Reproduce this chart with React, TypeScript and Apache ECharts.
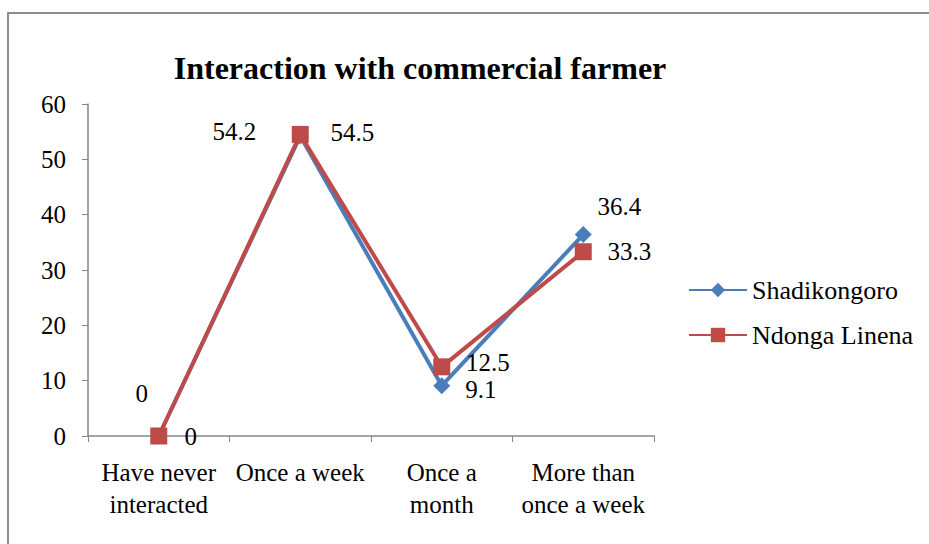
import React, { useEffect, useRef } from "react";
import * as echarts from "echarts";

const categories = ["Have never\ninteracted", "Once a week", "Once a\nmonth", "More than\nonce a week"];
const shadikongoro = [0, 54.2, 9.1, 36.4];
const ndongaLinena = [0, 54.5, 12.5, 33.3];
const yTicks = { min: 0, max: 60, interval: 10 };

const shLabelOffsets = [[-17, -43], [-66, -5], [39, 4], [36, -28]];
const ndLabelOffsets = [[32, 0], [52, -2], [46, -4], [46, 0]];

const FONT = '"Liberation Serif", "Times New Roman", serif';

export default function App() {
  const ref = useRef<HTMLDivElement>(null);
  useEffect(() => {
    if (!ref.current) return;
    const chart = echarts.init(ref.current, null, { renderer: "svg" });
    const mk = (vals: number[], offs: number[][]) =>
      vals.map((v, i) => ({
        value: v,
        label: { show: true, position: "inside", offset: offs[i] },
      }));
    chart.setOption({
      animation: false,
      backgroundColor: "#ffffff",
      graphic: [
        {
          type: "rect",
          shape: { x: 8, y: 13, width: 960, height: 600 },
          style: { fill: "none", stroke: "#8c8c8c", lineWidth: 2 },
          z: -1,
        },
        {
          type: "text",
          x: 420,
          y: 68,
          style: {
            text: "Interaction with commercial farmer",
            fontFamily: FONT,
            fontWeight: "bold",
            fontSize: 32,
            fill: "#000",
            align: "center",
            verticalAlign: "middle",
          },
        },
      ],
      grid: { left: 88, right: 275, top: 104, bottom: 108, containLabel: false },
      legend: {
        orient: "vertical",
        left: 683,
        top: 272,
        itemWidth: 58,
        itemHeight: 18,
        itemGap: 19,
        textStyle: { fontFamily: FONT, fontSize: 26, color: "#000" },
        data: ["Shadikongoro", "Ndonga Linena"],
      },
      xAxis: {
        type: "category",
        data: categories,
        boundaryGap: true,
        axisLine: { lineStyle: { color: "#868686", width: 1.5 } },
        axisTick: { show: true, length: 6, alignWithLabel: false, lineStyle: { color: "#868686" } },
        axisLabel: {
          fontFamily: FONT,
          fontSize: 25,
          color: "#000",
          lineHeight: 32,
          margin: 20,
          interval: 0,
        },
        splitLine: { show: false },
      },
      yAxis: {
        type: "value",
        min: yTicks.min,
        max: yTicks.max,
        interval: yTicks.interval,
        axisLine: { show: true, lineStyle: { color: "#868686", width: 1.5 } },
        axisTick: { show: true, length: 6, lineStyle: { color: "#868686" } },
        axisLabel: { fontFamily: FONT, fontSize: 25, color: "#000", margin: 22 },
        splitLine: { show: false },
      },
      series: [
        {
          name: "Shadikongoro",
          type: "line",
          data: mk(shadikongoro, shLabelOffsets),
          symbol: "diamond",
          symbolSize: 17,
          itemStyle: { color: "#4A7EBB" },
          lineStyle: { color: "#4A7EBB", width: 4 },
          label: { fontFamily: FONT, fontSize: 25, lineHeight: 17, color: "#000" },
        },
        {
          name: "Ndonga Linena",
          type: "line",
          data: mk(ndongaLinena, ndLabelOffsets),
          symbol: "rect",
          symbolSize: 17,
          itemStyle: { color: "#BE4B48" },
          lineStyle: { color: "#BE4B48", width: 4 },
          label: { fontFamily: FONT, fontSize: 25, lineHeight: 17, color: "#000" },
        },
      ],
    });
    return () => chart.dispose();
  }, []);
  return (
    <div
      ref={ref}
      style={{ position: "fixed", left: 0, top: 0, width: 929, height: 544, background: "#fff" }}
    />
  );
}
